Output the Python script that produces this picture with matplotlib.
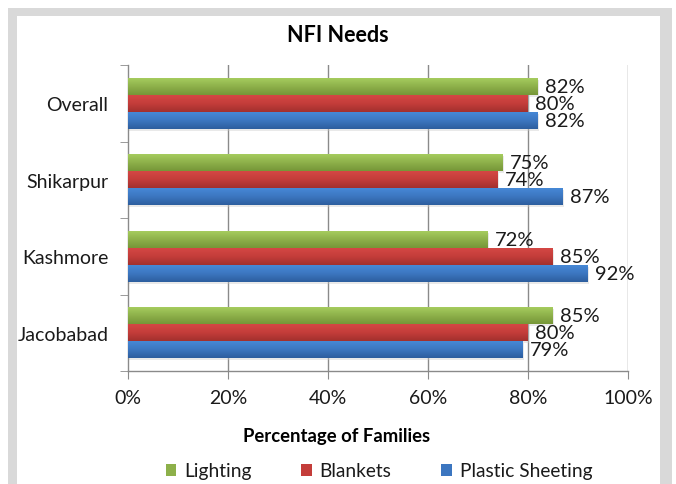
import matplotlib
matplotlib.use('Agg')
import matplotlib.pyplot as plt
from matplotlib.patches import Rectangle
from matplotlib.colors import LinearSegmentedColormap
import matplotlib.transforms as mtransforms
import numpy as np

# NFI needs by district, percent of families
districts = ["Overall", "Shikarpur", "Kashmore", "Jacobabad"]
series_names = ["Lighting", "Blankets", "Plastic Sheeting"]
lighting = [82, 75, 72, 85]
blankets = [80, 74, 85, 80]
plastic_sheeting = [82, 87, 92, 79]
x_ticks = [0, 20, 40, 60, 80, 100]

# (flat colour, gradient top, gradient bottom) per series
colours = [
    ("#8db04a", "#a6cc5e", "#769638"),
    ("#c43d3a", "#d44744", "#a2302e"),
    ("#3c76c0", "#4688d6", "#2d5e9e"),
]

plt.rcParams['font.family'] = ['Lato', 'DejaVu Sans']
fig = plt.figure(figsize=(6.76, 4.85), dpi=100)
fig.patch.set_facecolor('white')

# grey chart frame (bottom edge runs off the canvas)
W, H = 676.0, 485.0
frame_col = '#d9d9d9'
for (x0, y0, x1, y1) in [(8, 9, 672, 17), (8, 9, 17, 485), (660, 9, 672, 485)]:
    fig.add_artist(Rectangle((x0 / W, 1 - y1 / H), (x1 - x0) / W, (y1 - y0) / H,
                             transform=fig.transFigure, facecolor=frame_col,
                             edgecolor='none', zorder=0))

ax = fig.add_axes([128 / W, 1 - 372 / H, 500 / W, 306 / H])
ax.set_facecolor('none')

y = np.arange(len(districts))
bar_h = 0.222
offsets = [-bar_h, 0.0, bar_h]
values = [lighting, blankets, plastic_sheeting]

shadow = mtransforms.offset_copy(ax.transData, fig=fig, x=1.0, y=-2.0, units='dots')
containers = []
for vals, off, (flat, top, bot), name in zip(values, offsets, colours, series_names):
    ax.barh(y + off, vals, height=bar_h, color='#c8c8c8', alpha=0.4,
            edgecolor='none', transform=shadow, zorder=2)
    bars = ax.barh(y + off, vals, height=bar_h, color=flat, edgecolor='none',
                   label=name, zorder=3)
    containers.append(bars)
    cmap = LinearSegmentedColormap.from_list(name, [top, flat, bot])
    for r in bars:
        bx, by = r.get_x(), r.get_y()
        bw, bh = r.get_width(), r.get_height()
        im = ax.imshow(np.linspace(0, 1, 64).reshape(-1, 1), cmap=cmap,
                       aspect='auto', extent=(bx, bx + bw, by + bh, by),
                       origin='upper', zorder=4, interpolation='bilinear')
        im.set_clip_path(r)
    ax.bar_label(bars, labels=[f"{v}%" for v in vals], padding=5,
                 fontsize=14.5, color='#1a1a1a', zorder=5)

ax.set_xlim(0, 100)
ax.set_ylim(3.5, -0.5)

grid_col = '#8a8a8a'
ax.set_xticks(x_ticks)
ax.set_xticklabels([f"{t}%" for t in x_ticks], fontsize=14, color='#1a1a1a')
ax.tick_params(axis='x', direction='out', length=6, color=grid_col, pad=7)
for t in x_ticks[1:]:
    ax.axvline(t, color=grid_col, lw=1.0, zorder=1)

ax.set_yticks(y)
ax.set_yticklabels(districts, fontsize=14, color='#1a1a1a')
ax.tick_params(axis='y', which='major', length=0, pad=14)
ax.set_yticks(np.arange(-0.5, 4.0, 1.0), minor=True)
ax.tick_params(axis='y', which='minor', direction='out', length=6, color=grid_col)

for side in ['top', 'right']:
    ax.spines[side].set_visible(False)
for side in ['left', 'bottom']:
    ax.spines[side].set_color(grid_col)
    ax.spines[side].set_linewidth(1.0)

fig.text(338 / W, 1 - 36 / H, "NFI Needs", ha='center', va='center',
         fontsize=15.5, fontweight='bold', color='#000000')
fig.text(337 / W, 1 - 437 / H, "Percentage of Families", ha='center', va='center',
         fontsize=13.3, fontweight='bold', color='#000000')

ax.legend(handles=containers, labels=series_names, ncol=3, loc='center',
          bbox_to_anchor=(379 / W, 1 - 472 / H), bbox_transform=fig.transFigure,
          frameon=False, fontsize=13.8, handlelength=0.55, handleheight=0.6,
          handletextpad=0.4, columnspacing=2.6, labelcolor='#1a1a1a')

fig.savefig('out.png', dpi=100)
